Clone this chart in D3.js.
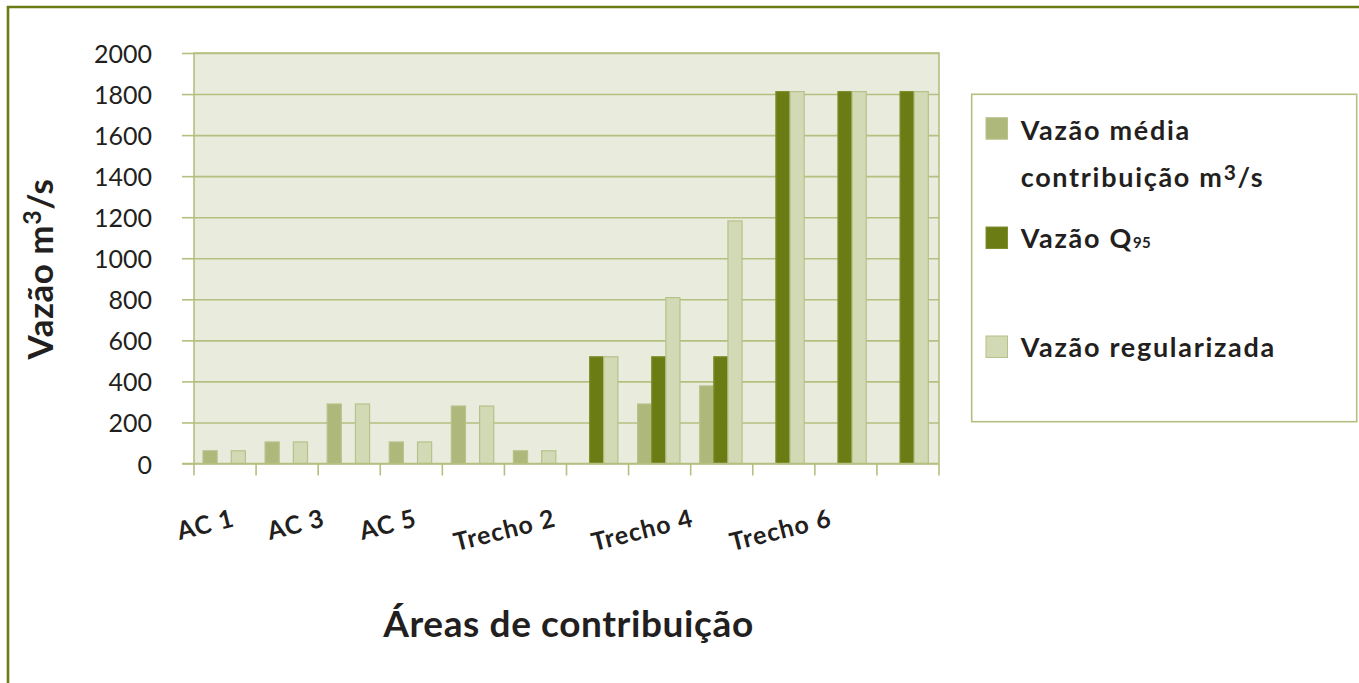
<!DOCTYPE html>
<html>
<head>
<meta charset="utf-8">
<script src="https://cdn.jsdelivr.net/npm/d3@7.9.0/dist/d3.min.js"></script>
<style>
  body { margin: 0; background: #fff; }
  svg { display: block; font-family: Lato, 'Open Sans', sans-serif; }
</style>
</head>
<body>
<svg id="chart" width="1359" height="683"></svg>
<script>
// DATA
const categories = ['AC 1', 'AC 2', 'AC 3', 'AC 4', 'AC 5', 'Trecho 1',
  'Trecho 2', 'Trecho 3', 'Trecho 4', 'Trecho 5', 'Trecho 6', 'Trecho 7'];

const mediaValues = [62, 105, 290, 105, 280, 62, null, 290, 378, null, null, null];
const q95Values = [null, null, null, null, null, null, 520, 520, 520, 1812, 1812, 1812];
const regValues = [62, 105, 290, 105, 280, 62, 520, 808, 1182, 1812, 1812, 1812];

const yTicks = [0, 200, 400, 600, 800, 1000, 1200, 1400, 1600, 1800, 2000];
const shownLabels = ['AC 1', 'AC 3', 'AC 5', 'Trecho 2', 'Trecho 4', 'Trecho 6'];

const seriesKeys = ['media', 'q95', 'reg'];

// COLOURS
const olive = '#6b7c14';
const gridColor = '#b4bf80';
const colors = { media: '#adb87a', q95: '#6b7c14', reg: '#d2d9b5' };
const strokes = { media: '#b9c28c', q95: '#7f8f2e', reg: '#b7c18c' };

const width = 1359;
const height = 683;

const plot = { left: 194, right: 939, top: 53, bottom: 463.5 };

const svg = d3.select('#chart');

// frame
svg.append('path')
  .attr('d', `M8,${height} L8,7 L${width},7`)
  .attr('fill', 'none')
  .attr('stroke', olive)
  .attr('stroke-width', 2.6);

// SCALES
const x0 = d3.scaleBand()
  .domain(categories)
  .range([plot.left, plot.right])
  .padding(0);

const x1 = d3.scaleBand()
  .domain(seriesKeys)
  .range([9 / 62.08 * x0.bandwidth(), 51.4 / 62.08 * x0.bandwidth()]);

const y = d3.scaleLinear()
  .domain([0, 2000])
  .range([plot.bottom, plot.top]);

// plot background
svg.append('rect')
  .attr('x', plot.left)
  .attr('y', plot.top)
  .attr('width', plot.right - plot.left)
  .attr('height', plot.bottom - plot.top)
  .attr('fill', '#e9ecdd');

// GRIDLINES + y axis
const yAxis = svg.append('g')
  .attr('transform', `translate(${plot.left},0)`)
  .call(d3.axisLeft(y)
    .tickValues(yTicks)
    .tickFormat(d3.format('d'))
    .tickSize(12));

yAxis.select('.domain').remove();
yAxis.selectAll('.tick line')
  .attr('x1', 0)
  .attr('x2', plot.right - plot.left)
  .clone()
  .attr('x1', -12)
  .attr('x2', 0);
yAxis.selectAll('.tick line')
  .attr('stroke', gridColor)
  .attr('stroke-width', 1.6);
yAxis.selectAll('.tick text')
  .attr('x', -42)
  .attr('y', -8)
  .attr('dy', '0.7em')
  .attr('fill', '#231f20')
  .attr('font-size', 25)
  .attr('font-family', 'Lato, sans-serif');

// plot borders
svg.append('path')
  .attr('d', `M${plot.left},${plot.bottom} V${plot.top} H${plot.right} V${plot.bottom}`)
  .attr('fill', 'none')
  .attr('stroke', gridColor)
  .attr('stroke-width', 1.6);

// BARS
const rows = categories.map((c, i) => ({
  category: c,
  media: mediaValues[i],
  q95: q95Values[i],
  reg: regValues[i],
}));

const groups = svg.append('g')
  .selectAll('g')
  .data(rows)
  .join('g')
  .attr('transform', (d) => `translate(${x0(d.category)},0)`);

groups.selectAll('rect')
  .data((d) => seriesKeys
    .filter((k) => d[k] != null)
    .map((k) => ({ key: k, value: d[k] })))
  .join('rect')
  .attr('x', (d) => x1(d.key))
  .attr('y', (d) => y(d.value))
  .attr('width', x1.bandwidth())
  .attr('height', (d) => y(0) - y(d.value))
  .attr('fill', (d) => colors[d.key])
  .attr('stroke', (d) => strokes[d.key])
  .attr('stroke-width', 1.2);

// x axis line + ticks
const xAxis = svg.append('g')
  .attr('transform', `translate(0,${plot.bottom})`)
  .call(d3.axisBottom(x0).tickSize(12).tickFormat(''));
xAxis.select('.domain')
  .attr('d', `M${plot.left - 12},0H${plot.right}`)
  .attr('stroke', gridColor)
  .attr('stroke-width', 1.6);
xAxis.selectAll('.tick').remove();

const boundaries = d3.range(categories.length + 1)
  .map((i) => plot.left + i * x0.step());
xAxis.selectAll('line.bound')
  .data(boundaries)
  .join('line')
  .attr('class', 'bound')
  .attr('x1', (d) => d)
  .attr('x2', (d) => d)
  .attr('y1', 0)
  .attr('y2', 12)
  .attr('stroke', gridColor)
  .attr('stroke-width', 1.6);

// category labels (every other one, rotated)
const labelShift = [10.7, -23.2, -55.2, -40.4, -26.9, -12.8];

svg.append('g')
  .selectAll('text')
  .data(shownLabels)
  .join('text')
  .attr('transform', (d, i) => {
    const cx = x0(d) + x0.bandwidth() / 2 + labelShift[i];
    return `translate(${cx},526) rotate(-14)`;
  })
  .attr('text-anchor', 'end')
  .attr('font-size', 25)
  .attr('font-weight', 700)
  .attr('letter-spacing', 1)
  .attr('fill', '#231f20')
  .text((d) => d);

// AXIS TITLES
const yTitle = svg.append('text')
  .attr('transform', `translate(53,269) rotate(-90)`)
  .attr('text-anchor', 'middle')
  .attr('font-size', 35)
  .attr('font-weight', 700)
  .attr('letter-spacing', 0.5)
  .attr('fill', '#231f20');
yTitle.append('tspan').text('Vazão m');
yTitle.append('tspan').attr('dy', -12).attr('font-size', 25).text('3');
yTitle.append('tspan').attr('dy', 12).text('/s');

svg.append('text')
  .attr('x', (plot.left + plot.right) / 2 + 2)
  .attr('y', 637)
  .attr('text-anchor', 'middle')
  .attr('font-size', 37)
  .attr('font-weight', 700)
  .attr('letter-spacing', 0.6)
  .attr('fill', '#231f20')
  .text('Áreas de contribuição');

// LEGEND
const legend = svg.append('g');
legend.append('rect')
  .attr('x', 971.7)
  .attr('y', 94.3)
  .attr('width', 385)
  .attr('height', 327.4)
  .attr('fill', '#fff')
  .attr('stroke', gridColor)
  .attr('stroke-width', 1.6);

const legendRows = [
  { key: 'media', top: 117.7 },
  { key: 'q95', top: 227 },
  { key: 'reg', top: 336 },
];

legend.selectAll('rect.sw')
  .data(legendRows)
  .join('rect')
  .attr('class', 'sw')
  .attr('x', 986)
  .attr('y', (d) => d.top)
  .attr('width', 21.5)
  .attr('height', 21.5)
  .attr('fill', (d) => colors[d.key])
  .attr('stroke', (d) => strokes[d.key])
  .attr('stroke-width', 1);

const legendText = (yPos) => legend.append('text')
  .attr('x', 1020.7)
  .attr('y', yPos)
  .attr('font-size', 27)
  .attr('font-weight', 700)
  .attr('letter-spacing', 1.7)
  .attr('fill', '#231f20');

legendText(140).text('Vazão média');
const t2 = legendText(187.3);
t2.append('tspan').text('contribuição m');
t2.append('tspan').attr('dy', -7).attr('font-size', 21).text('3');
t2.append('tspan').attr('dy', 7).text('/s');

const t3 = legendText(248.3);
t3.append('tspan').text('Vazão Q');
t3.append('tspan').attr('font-size', 15).attr('letter-spacing', 0.3).text('95');

legendText(357.3).text('Vazão regularizada');
</script>
</body>
</html>
